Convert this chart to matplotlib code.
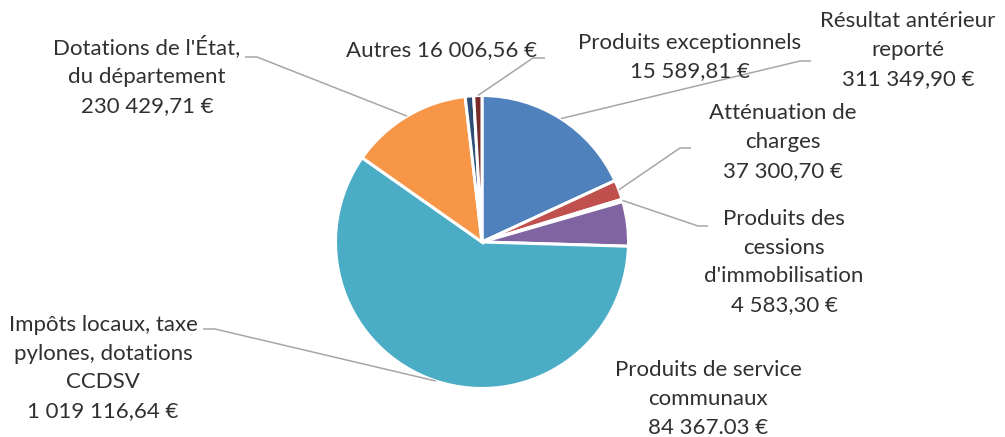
import numpy as np
import matplotlib
matplotlib.use('Agg')
import matplotlib.pyplot as plt

# slices, clockwise from 12 o'clock
names = ['Résultat antérieur\nreporté',
         'Atténuation de\ncharges',
         'Produits des\ncessions\nd\'immobilisation',
         'Produits de service\ncommunaux',
         'Impôts locaux, taxe\npylones, dotations\nCCDSV',
         'Dotations de l\'État,\ndu département',
         'Autres',
         'Produits exceptionnels']
values = [311349.90, 37300.70, 4583.30, 84367.03,
          1019116.64, 230429.71, 16006.56, 15589.81]
value_text = ['311 349,90 €', '37 300,70 €', '4 583,30 €', '84 367.03 €',
              '1 019 116,64 €', '230 429,71 €', '16 006,56 €', '15 589,81 €']
colors = ['#4F81BD', '#C0504D', '#9BBB59', '#8064A2',
          '#4BACC6', '#F79646', '#2C4D75', '#772C2A']

W, H = 1005, 437
CX, CY, R = 482, 242, 146.5

# label block centres (pixels from top-left) and leader elbows
label_pos = [(908, 50), (783, 142), (784, 262), (708, 399),
             (103, 368), (147, 76), (442, 50), (690, 57)]
elbows = [[(800, 61), (811, 61)],
          [(680, 148), (691, 148)],
          [(698, 226), (708, 226)],
          None,
          [(215, 329), (203, 329)],
          [(257, 57), (245, 57)],
          None,
          [(533, 58), (545, 58)]]
one_line = [False, False, False, False, False, False, True, False]


def Y(y):
    return H - y


plt.rcParams['font.family'] = ['Lato', 'DejaVu Sans']

fig = plt.figure(figsize=(W / 100, H / 100), dpi=100)
ax = fig.add_axes([0, 0, 1, 1])

wedges, _ = ax.pie(values, colors=colors, startangle=90, counterclock=False,
                   center=(CX, Y(CY)), radius=R,
                   wedgeprops=dict(edgecolor='white', linewidth=2.2))

ax.set_xlim(0, W)
ax.set_ylim(0, H)
ax.set_aspect('equal')
ax.axis('off')

for i, w in enumerate(wedges):
    sep = ' ' if one_line[i] else '\n'
    x, y = label_pos[i]
    ax.text(x, Y(y), names[i] + sep + value_text[i], ha='center',
            va='center', multialignment='center', fontsize=16,
            color='#303030', linespacing=1.56)
    if elbows[i] is None:
        continue
    mid = np.deg2rad((w.theta1 + w.theta2) / 2)
    xs = [CX + R * np.cos(mid)] + [p[0] for p in elbows[i]]
    ys = [Y(CY) + R * np.sin(mid)] + [Y(p[1]) for p in elbows[i]]
    ax.plot(xs, ys, color='#A6A6A6', lw=1.1, solid_capstyle='butt')

fig.savefig('out.png', dpi=100)
